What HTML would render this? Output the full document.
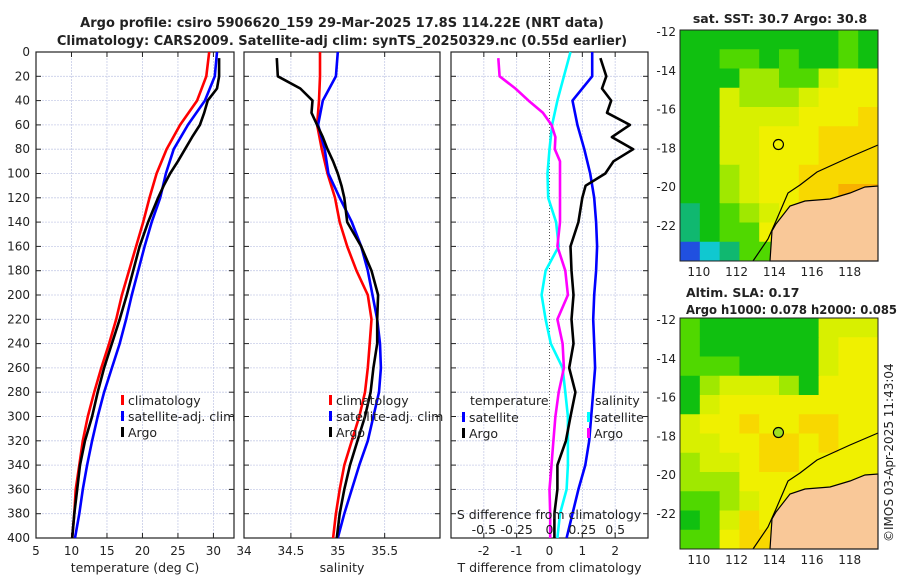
<!DOCTYPE html>
<html><head><meta charset="utf-8"><style>
body{margin:0;background:#fff;font-family:"Liberation Sans","DejaVu Sans",sans-serif}
svg{display:block}
text{font-family:"DejaVu Sans","Liberation Sans",sans-serif;fill:#222}
</style></head><body>
<svg id="s" width="900" height="580" xmlns="http://www.w3.org/2000/svg">
<text x="342" y="27" text-anchor="middle" font-size="13" font-weight="bold">Argo profile: csiro 5906620_159 29-Mar-2025 17.8S 114.22E (NRT data)</text>
<text x="342" y="45" text-anchor="middle" font-size="13" font-weight="bold">Climatology: CARS2009. Satellite-adj clim: synTS_20250329.nc (0.55d earlier)</text>
<text x="780" y="23" text-anchor="middle" font-size="12.5" font-weight="bold">sat. SST: 30.7 Argo: 30.8</text>
<text x="686" y="297" font-size="12.5" font-weight="bold">Altim. SLA: 0.17</text>
<text x="686" y="314" font-size="12.5" font-weight="bold" textLength="211" lengthAdjust="spacingAndGlyphs">Argo h1000: 0.078 h2000: 0.085</text>
<text transform="translate(893,542) rotate(-90)" font-size="12">©IMOS 03-Apr-2025 11:43:04</text>
<g id="g"></g>
</svg>
<script>
const depths=[0,20,40,60,80,100,120,140,160,180,200,220,240,260,280,300,320,340,360,380,400];
const tClim=[29.4,29.0,27.7,25.3,23.4,22.0,21.0,20.1,19.1,18.1,17.1,16.3,15.3,14.2,13.2,12.3,11.6,11.1,10.6,10.4,10.1];
const tSat=[30.5,30.2,28.8,26.4,24.4,23.3,22.5,21.3,20.3,19.4,18.5,17.7,16.8,15.7,14.6,13.7,12.9,12.2,11.6,11.1,10.5];
const argoDepths=[5,20,30,40,50,60,70,80,90,100,110,120,140,160,180,200,220,240,260,280,300,320,340,360,380,400];
const tArgo=[30.8,30.8,30.5,29.2,28.7,28.1,27.0,26.0,25.0,23.9,23.0,22.2,20.8,19.6,18.7,17.8,16.8,15.7,14.6,13.7,12.9,11.9,11.2,10.8,10.4,10.1];
const sClim=[34.81,34.81,34.80,34.78,34.83,34.89,34.97,35.02,35.10,35.20,35.32,35.36,35.34,35.32,35.29,35.23,35.15,35.07,35.02,34.98,34.95];
const sSat=[35.0,34.98,34.84,34.79,34.86,34.9,35.02,35.15,35.25,35.32,35.37,35.42,35.45,35.46,35.44,35.38,35.32,35.23,35.15,35.07,35.0];
const sArgo=[34.35,34.36,34.6,34.73,34.72,34.78,34.84,34.89,34.95,35.0,35.04,35.07,35.10,35.25,35.36,35.43,35.42,35.42,35.38,35.35,35.29,35.21,35.13,35.07,35.02,34.99];
const dtSat=[1.3,1.3,0.7,0.85,1.06,1.24,1.36,1.42,1.45,1.42,1.36,1.33,1.36,1.39,1.33,1.27,1.21,1.09,0.88,0.7,0.52];
const dtArgo=[1.55,1.73,1.6,1.88,1.75,2.45,1.9,2.55,1.95,1.7,1.1,1.0,0.88,0.64,0.67,0.73,0.67,0.73,0.6,0.79,0.64,0.5,0.24,0.24,0.15,0.15];
const dsSat=[0.16,0.11,0.06,0.02,0,-0.015,-0.01,0.05,0.07,-0.03,-0.06,-0.03,0.01,0.1,0.12,0.14,0.14,0.14,0.13,0.08,0.06];
const dsArgo=[-0.39,-0.38,-0.26,-0.16,-0.05,0.015,0.045,0.04,0.08,0.08,0.08,0.08,0.08,0.06,0.12,0.14,0.06,0.1,0.11,0.07,0.045,0.03,0.015,0,0.005,0.005];
const tTicks=[5,10,15,20,25,30],sTicks=[34,34.5,35,35.5],dTicks=[-2,-1,0,1,2],dsTicks=[-0.5,-0.25,0,0.25,0.5],dsLabels=['-0.5','-0.25','0','0.25','0.5'];
const lonTicks=[110,112,114,116,118],latTicks=[-12,-14,-16,-18,-20,-22];
const sstGrid=["3333333343","3344343343","3335544677","3365556777","3366667778","3366777888","3366777888","3356778888","3356778899","2345678899","2344778999","0124478999"];
const slaGrid=["4333333666","4333333677","4443333677","3566653777","3677777777","6778778877","6677887877","5667887777","5557777777","4456777777","3468777777","4478877777"];
const cmap=["#2050e0","#10c8d0","#10b870","#10c010","#50d800","#a0e800","#d8f000","#f0f000","#f8d800","#f8b000"];
const NS="http://www.w3.org/2000/svg",G=document.getElementById('g');
function el(t,a,p){const e=document.createElementNS(NS,t);for(const k in a)e.setAttribute(k,a[k]);(p||G).appendChild(e);return e;}
const Y0=52,Y1=538,yD=d=>Y0+(Y1-Y0)*d/400;
function panel(x0,x1,lo,hi,name){
  const fx=v=>x0+(x1-x0)*(v-lo)/(hi-lo);
  const g=el('g',{});
  
  
  return {fx,g,x0,x1};
}
function frame(p,ticks,labels,gridTicks,xlab){
  for(let d=20;d<400;d+=20){const l=el('line',{x1:p.x0,x2:p.x1,y1:yD(d),y2:yD(d),stroke:'#c8cde8','stroke-dasharray':'2,1','stroke-width':0.8},p.g);
    }
  gridTicks.forEach(v=>{const l=el('line',{x1:p.fx(v),x2:p.fx(v),y1:Y0,y2:Y1,stroke:'#c8cde8','stroke-dasharray':'2,1','stroke-width':0.8},p.g);
    });
  const r=el('rect',{x:p.x0,y:Y0,width:p.x1-p.x0,height:Y1-Y0,fill:'none',stroke:'#222','stroke-width':1.2},p.g);
  
  for(let d=20;d<400;d+=20){el('line',{x1:p.x0,x2:p.x0+5,y1:yD(d),y2:yD(d),stroke:'#222'},p.g);el('line',{x1:p.x1-5,x2:p.x1,y1:yD(d),y2:yD(d),stroke:'#222'},p.g);}
  if(ticks)ticks.forEach((v,i)=>{const t=el('text',{x:p.fx(v),y:Y1+17,'text-anchor':'middle','font-size':12},p.g);t.textContent=labels[i];
    
    el('line',{x1:p.fx(v),x2:p.fx(v),y1:Y1,y2:Y1-5,stroke:'#222'},p.g);el('line',{x1:p.fx(v),x2:p.fx(v),y1:Y0,y2:Y0+5,stroke:'#222'},p.g);});
  const t=el('text',{x:(p.x0+p.x1)/2,y:572,'text-anchor':'middle','font-size':12.5},p.g);t.textContent=xlab;
  
}
function line(p,xs,ds,col,name,sc){
  const pts=xs.map((v,i)=>p.fx(v*(sc||1)).toFixed(1)+','+yD(ds[i]).toFixed(1)).join(' ');
  const l=el('polyline',{points:pts,fill:'none',stroke:col,'stroke-width':2.6,'stroke-linejoin':'round'},p.g);
  
}
function leg(p,x,y,col,txt){
  const r=el('rect',{x:x,y:y-9,width:3,height:10,fill:col},p.g);
  const t=el('text',{x:x+7,y:y+1,'font-size':12.5},p.g);t.textContent=txt;
}
const p1=panel(36,234,5,32.9,'temperature-panel');
frame(p1,tTicks,tTicks.map(String),[10,15,20,25,30],'temperature (deg C)');
for(let d=0;d<=400;d+=20){const t=el('text',{x:30,y:yD(d)+4,'text-anchor':'end','font-size':12});t.textContent=d;
  }
line(p1,tClim,depths,'#f00','temp-climatology-line');line(p1,tSat,depths,'#00f','temp-satellite-line');line(p1,tArgo,argoDepths,'#000','temp-argo-line');
leg(p1,121,404,'#f00','climatology');leg(p1,121,420,'#00f','satellite-adj. clim');leg(p1,121,436,'#000','Argo');
const p2=panel(244,440,34,36.09,'salinity-panel');
frame(p2,sTicks,['34','34.5','35','35.5'],[34.5,35,35.5],'salinity');
line(p2,sClim,depths,'#f00','sal-climatology-line');line(p2,sSat,depths,'#00f','sal-satellite-line');line(p2,sArgo,argoDepths,'#000','sal-argo-line');
leg(p2,329,404,'#f00','climatology');leg(p2,329,420,'#00f','satellite-adj. clim');leg(p2,329,436,'#000','Argo');
const p3=panel(451,648,-3,3,'difference-panel');
frame(p3,dTicks,dTicks.map(String),[-2,-1,1,2],'T difference from climatology');
const z=el('line',{x1:p3.fx(0),x2:p3.fx(0),y1:Y0,y2:Y1,stroke:'#555','stroke-dasharray':'1,2'},p3.g);
line(p3,dsSat,depths,'#0ff','sal-diff-satellite-line',4);line(p3,dsArgo,argoDepths,'#f0f','sal-diff-argo-line',4);
line(p3,dtSat,depths,'#00f','temp-diff-satellite-line');line(p3,dtArgo,argoDepths,'#000','temp-diff-argo-line');
{const t=el('text',{x:470,y:405,'font-size':12.5},p3.g);t.textContent='temperature';
 const u=el('text',{x:595,y:405,'font-size':12.5},p3.g);u.textContent='salinity';}
leg(p3,462,421,'#00f','satellite');leg(p3,462,437,'#000','Argo');leg(p3,587,421,'#0ff','satellite');leg(p3,587,437,'#f0f','Argo');
{const t=el('text',{x:549,y:519,'text-anchor':'middle','font-size':12.5},p3.g);t.textContent='S difference from climatology';}
dsTicks.forEach((v,i)=>{const t=el('text',{x:p3.fx(v*4),y:534,'text-anchor':'middle','font-size':12.5},p3.g);t.textContent=dsLabels[i];});
function map(y0,grid,name,markFill){
  const x0=680,w=198,h=231,lon0=109,lon1=119.5,lat0=-11.9,lat1=-23.8;
  const fx=l=>x0+w*(l-lon0)/(lon1-lon0),fy=l=>y0+h*(l-lat0)/(lat1-lat0);
  const g=el('g',{});
  const R=grid.length,C=grid[0].length;
  grid.forEach((row,r)=>[...row].forEach((c,k)=>{const e=el('rect',{x:x0+k*w/C,y:y0+r*h/R,width:w/C+0.5,height:h/R+0.5,fill:cmap[+c]},g);
    }));
  const land=el('polygon',{points:`770,${y0+h} 772,${y0+h-30} 776,${y0+h-37} 790,${y0+h-55} 805,${y0+h-60} 830,${y0+h-62} 850,${y0+h-68} 865,${y0+h-74} 878,${y0+h-75} 878,${y0+h}`,fill:'#f9c898',stroke:'#000','stroke-width':1.2},g);
  
  const c=el('polyline',{points:`753,${y0+h} 768,${y0+h-22} 776,${y0+h-40} 788,${y0+h-68} 800,${y0+h-76} 817,${y0+h-89} 850,${y0+h-104} 878,${y0+h-116}`,fill:'none',stroke:'#000','stroke-width':1.2},g);
  
  const m=el('circle',{cx:fx(114.22),cy:fy(-17.8),r:5,fill:markFill,stroke:'#000','stroke-width':1.2},g);
  
  const f=el('rect',{x:x0,y:y0,width:w,height:h,fill:'none',stroke:'#222'},g);
  lonTicks.forEach(v=>{const t=el('text',{x:fx(v),y:y0+h+15,'text-anchor':'middle','font-size':12},g);t.textContent=v;});
  latTicks.forEach(v=>{const t=el('text',{x:x0-4,y:fy(v)+4,'text-anchor':'end','font-size':12},g);t.textContent=v;});
}
map(30,sstGrid,'sst-map','none');map(318,slaGrid,'sla-map','#a0e020');
</script>
</body></html>
